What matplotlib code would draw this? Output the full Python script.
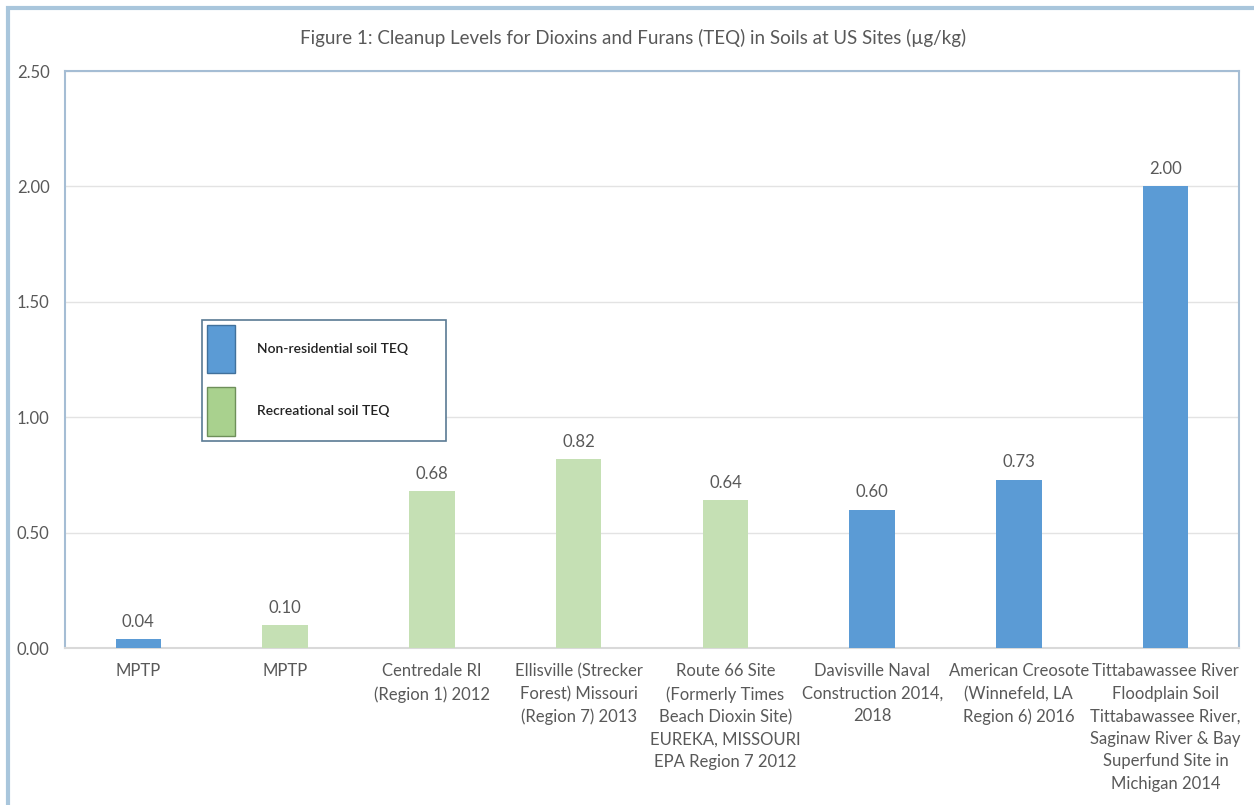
import matplotlib.pyplot as plt
from matplotlib.patches import Patch, Rectangle

sites = [
    'MPTP',
    'MPTP',
    'Centredale RI\n(Region 1) 2012',
    'Ellisville (Strecker\nForest) Missouri\n(Region 7) 2013',
    'Route 66 Site\n(Formerly Times\nBeach Dioxin Site)\nEUREKA, MISSOURI\nEPA Region 7 2012',
    'Davisville Naval\nConstruction 2014,\n2018',
    'American Creosote\n(Winnefeld, LA\nRegion 6) 2016',
    'Tittabawassee River\nFloodplain Soil\nTittabawassee River,\nSaginaw River & Bay\nSuperfund Site in\nMichigan 2014',
]
teq = [0.04, 0.10, 0.68, 0.82, 0.64, 0.60, 0.73, 2.00]
soil_type = ['non', 'rec', 'rec', 'rec', 'rec', 'non', 'non', 'non']

blue = '#5B9BD5'
green = '#C5E0B4'
txt = '#595959'

plt.rcParams['font.family'] = ['Lato', 'DejaVu Sans']

fig = plt.figure(figsize=(12.54, 8.05), dpi=100)
ax = fig.add_axes([65 / 1254, 1 - 648 / 805, (1239 - 65) / 1254, (648 - 71) / 805])

# frame around the whole figure (cut off at right/bottom like the original)
fig.patches.append(Rectangle((8 / 1254, -0.05), 1.2, 1 - 8 / 805 + 0.05,
                             transform=fig.transFigure, fill=False,
                             edgecolor='#A9C6DC', linewidth=3))

x = range(len(sites))
colors = [blue if s == 'non' else green for s in soil_type]
bars = ax.bar(x, teq, width=0.31, color=colors, zorder=3)

for b, v in zip(bars, teq):
    ax.text(b.get_x() + b.get_width() / 2, v + 0.04, f'{v:.2f}',
            ha='center', va='bottom', fontsize=12, color=txt)

ax.set_xlim(-0.5, len(sites) - 0.5)
ax.set_ylim(0, 2.5)
ax.set_yticks([0, 0.5, 1.0, 1.5, 2.0, 2.5])
ax.set_yticklabels([f'{t:.2f}' for t in ax.get_yticks()])
ax.yaxis.grid(True, color='#E3E3E3', linewidth=1, zorder=0)
ax.set_xticks(list(x))
ax.set_xticklabels(sites, fontsize=12, color=txt, linespacing=1.5)
ax.tick_params(axis='y', labelsize=12, labelcolor=txt, length=0, pad=11)
ax.tick_params(axis='x', length=0, pad=11)

for side in ['left', 'top', 'right']:
    ax.spines[side].set_color('#A5BDD4')
    ax.spines[side].set_linewidth(1.5)
ax.spines['bottom'].set_color('#D9D9D9')
ax.spines['bottom'].set_linewidth(1.5)

fig.text(0.505, 1 - 38 / 805, 'Figure 1: Cleanup Levels for Dioxins and Furans (TEQ) in Soils at US Sites (µg/kg)',
         ha='center', va='center', fontsize=13.5, color=txt)

handles = [Patch(facecolor=blue, edgecolor='#41719C', label='Non-residential soil TEQ'),
           Patch(facecolor='#A9D18E', edgecolor='#6E8F5A', label='Recreational soil TEQ')]
leg_x0 = (202 - 65) / 1174
leg_w = (446 - 202) / 1174
leg_top = (648 - 320) / 577
leg = ax.legend(handles=handles, loc='upper left', mode='expand',
                bbox_to_anchor=(leg_x0, leg_top - 0.3, leg_w, 0.3),
                fontsize=10, handlelength=2.0, handleheight=5.0,
                labelspacing=1.0, borderpad=0.35, handletextpad=1.6,
                borderaxespad=0, fancybox=False, framealpha=1,
                edgecolor='#5A7A94')
leg.get_frame().set_linewidth(1.2)
for t in leg.get_texts():
    t.set_fontweight('semibold')
    t.set_color('#222222')

fig.savefig('out.png', dpi=100)
